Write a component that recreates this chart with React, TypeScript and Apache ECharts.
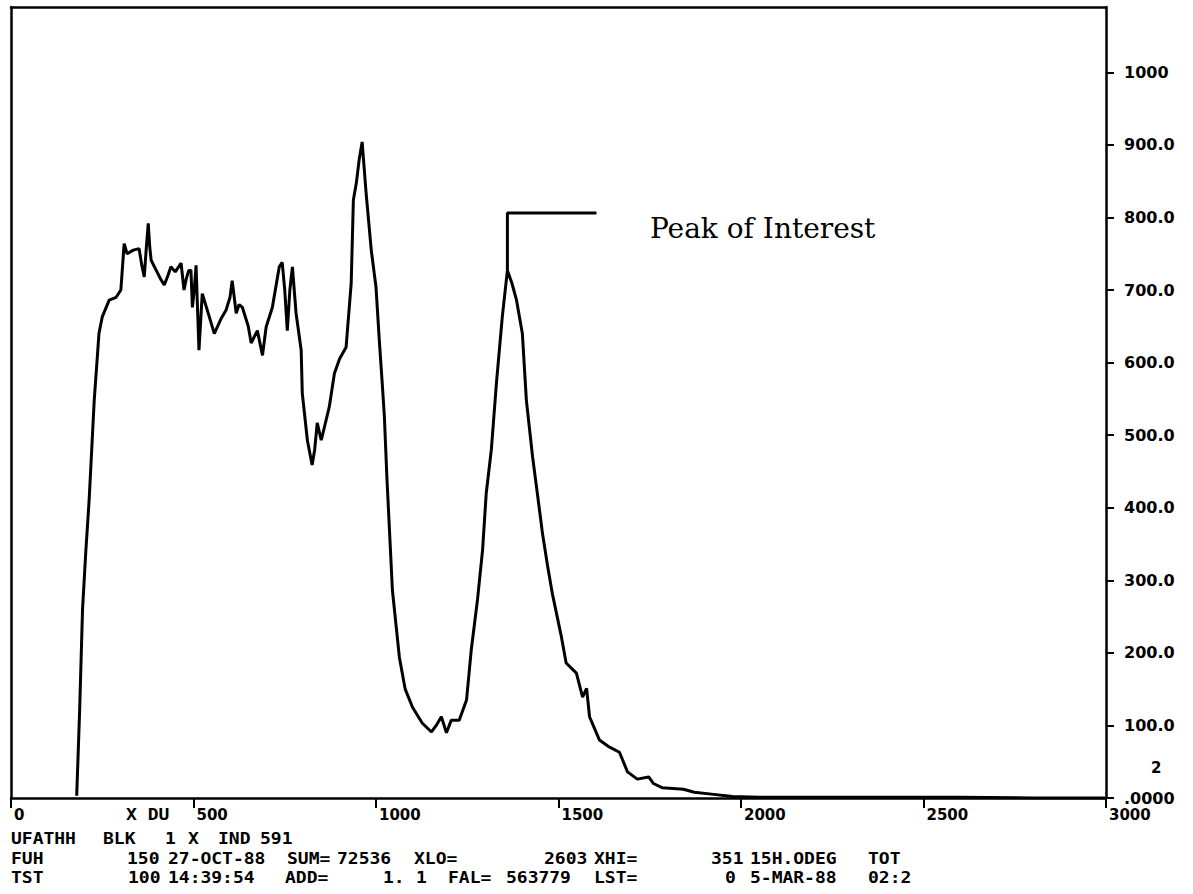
import React, { useEffect, useRef } from "react";
import * as echarts from "echarts";

// Spectrum trace: channel (x) and counts (y)
const channels = [180, 188, 196, 205, 214, 228, 241, 250, 269, 288, 301, 310, 318, 335, 351, 358, 365, 371, 376, 380, 384, 400, 410, 420, 430, 438, 450, 466, 474, 480, 487, 493, 497, 502, 507, 515, 524, 538, 557, 575, 589, 600, 606, 617, 625, 634, 650, 658, 675, 689, 699, 716, 735, 743, 750, 757, 764, 771, 781, 795, 798, 812, 825, 832, 839, 850, 872, 886, 900, 918, 932, 938, 946, 954, 962, 973, 987, 1000, 1009, 1017, 1023, 1030, 1045, 1064, 1080, 1100, 1127, 1152, 1165, 1179, 1193, 1206, 1228, 1248, 1261, 1278, 1292, 1302, 1316, 1330, 1346, 1360, 1372, 1385, 1401, 1412, 1429, 1442, 1456, 1470, 1483, 1508, 1521, 1549, 1566, 1577, 1585, 1612, 1640, 1667, 1689, 1716, 1747, 1760, 1785, 1842, 1872, 1925, 1977, 2050, 2200, 2400, 2600, 2800, 2998];
const counts = [3, 120, 260, 340, 410, 548, 640, 663, 686, 690, 700, 764, 750, 755, 757, 735, 718, 760, 792, 760, 741, 725, 715, 707, 720, 732, 725, 737, 700, 715, 727, 727, 676, 700, 734, 617, 695, 672, 640, 660, 672, 690, 713, 668, 680, 676, 650, 627, 644, 610, 649, 676, 732, 738, 700, 644, 700, 732, 668, 617, 558, 493, 459, 480, 517, 493, 539, 585, 605, 621, 709, 824, 847, 880, 904, 833, 755, 704, 631, 572, 525, 440, 286, 194, 150, 125, 103, 91, 100, 112, 90, 107, 107, 135, 204, 273, 342, 420, 480, 572, 663, 727, 710, 686, 640, 548, 470, 420, 365, 320, 282, 222, 186, 172, 139, 151, 112, 80, 70, 63, 36, 26, 29, 20, 14, 12, 8, 5, 2, 1, 1, 1, 1, 0, 0];

// Peak-of-interest marker (channel, counts)
const markerX = [1360, 1360, 1604];
const markerY = [727, 806, 806];
const markerLabel = "Peak of Interest";

// Axis ticks and labels
const xTicks = [0, 500, 1000, 1500, 2000, 2500, 3000];
const xTickLabels = ["0", "500", "1000", "1500", "2000", "2500", "3000"];
const yTicks = [0, 100, 200, 300, 400, 500, 600, 700, 800, 900, 1000];
const yTickLabels = [".0000", "100.0", "200.0", "300.0", "400.0", "500.0", "600.0", "700.0", "800.0", "900.0", "1000"];
const xAxisName = "X DU";
const yExtraLabel = "2";

// Footer header lines (text tokens)
const footerLine1 = ["UFATHH", "BLK", "1", "X", "IND", "591"];
const footerLine2 = ["FUH", "150", "27-OCT-88", "SUM=", "72536", "XLO=", "2603", "XHI=", "351", "15H.ODEG", "TOT"];
const footerLine3 = ["TST", "100", "14:39:54", "ADD=", "1.", "1", "FAL=", "563779", "LST=", "0", "5-MAR-88", "02:2"];

// layout (pixel positions of footer tokens)
const footerLayout = [
  { y: 839, xs: [11, 103, 165, 188, 218, 260] },
  { y: 859, xs: [11, 127, 168, 287, 337, 414, 544, 594, 711, 750, 868] },
  { y: 878, xs: [11, 128, 168, 285, 383, 416, 448, 506, 594, 725, 750, 868] },
];

export default function App() {
  const ref = useRef<HTMLDivElement>(null);

  useEffect(() => {
    if (!ref.current) return;
    const chart = echarts.init(ref.current, undefined, { renderer: "svg" });
    const black = "#000";
    const lineData = channels.map((c, i) => [c, counts[i]]);
    const markerData = markerX.map((c, i) => [c, markerY[i]]);
    const axisFont = { color: black, fontFamily: "DejaVu Sans", fontWeight: "bold" as const, fontSize: 15 };
    const monoFont = 'bold 15px "DejaVu Sans Mono"';

    const footers = [footerLine1, footerLine2, footerLine3];
    const footerGraphics: any[] = [];
    footers.forEach((tokens, li) => {
      tokens.forEach((t, ti) => {
        footerGraphics.push({
          type: "text",
          x: footerLayout[li].xs[ti],
          y: footerLayout[li].y,
          scaleX: 1.2,
          style: { text: t, fill: black, font: monoFont, align: "left", verticalAlign: "middle" },
        });
      });
    });

    const option: any = {
      animation: false,
      backgroundColor: "#fff",
      grid: { left: 11, right: 87, top: 7, bottom: 96, outerBoundsMode: "none" },
      xAxis: [
        {
          type: "value",
          min: 0,
          max: 3000,
          interval: 500,
          position: "bottom",
          axisLine: { show: true, onZero: false, lineStyle: { color: black, width: 2.5 } },
          axisTick: { show: true, length: 10, lineStyle: { color: black, width: 2 } },
          axisLabel: {
            ...axisFont,
            align: "left",
            margin: 10,
            lineHeight: 14,
            padding: [0, 0, 0, 3],
            showMaxLabel: true,
            formatter: (v: number) => {
              const i = xTicks.indexOf(v);
              return i >= 0 ? xTickLabels[i] : "";
            },
          },
          splitLine: { show: false },
        },
        {
          type: "value",
          min: 0,
          max: 3000,
          position: "top",
          axisLine: { show: true, onZero: false, lineStyle: { color: black, width: 2.5 } },
          axisTick: { show: false },
          axisLabel: { show: false },
          splitLine: { show: false },
        },
      ],
      yAxis: [
        {
          type: "value",
          min: 0,
          max: 1090,
          position: "right",
          axisLine: { show: true, onZero: false, lineStyle: { color: black, width: 2.5 } },
          axisTick: { show: true, length: 8, customValues: yTicks, lineStyle: { color: black, width: 2 } },
          axisLabel: {
            ...axisFont,
            fontSize: 16,
            lineHeight: 14,
            margin: 12,
            align: "left",
            padding: [0, 0, 0, 6],
            customValues: yTicks,
            formatter: (v: number) => {
              const i = yTicks.indexOf(v);
              return i >= 0 ? yTickLabels[i] : "";
            },
          },
          splitLine: { show: false },
        },
        {
          type: "value",
          min: 0,
          max: 1090,
          position: "left",
          axisLine: { show: true, onZero: false, lineStyle: { color: black, width: 2.5 } },
          axisTick: { show: false },
          axisLabel: { show: false },
          splitLine: { show: false },
        },
      ],
      series: [
        {
          type: "line",
          xAxisIndex: 0,
          yAxisIndex: 0,
          data: lineData,
          symbol: "none",
          showSymbol: false,
          lineStyle: { color: black, width: 3 },
          z: 3,
        },
        {
          type: "line",
          xAxisIndex: 0,
          yAxisIndex: 0,
          data: markerData,
          symbol: "none",
          showSymbol: false,
          lineStyle: { color: black, width: 3 },
          z: 3,
        },
      ],
      graphic: [
        {
          type: "text",
          x: 650,
          y: 228,
          style: { text: markerLabel, fill: black, font: '28px "DejaVu Serif"', align: "left", verticalAlign: "middle" },
        },
        {
          type: "text",
          x: 126,
          y: 815,
          scaleX: 1.2,
          style: { text: xAxisName, fill: black, font: monoFont, align: "left", verticalAlign: "middle" },
        },
        {
          type: "text",
          x: 1151,
          y: 768,
          style: { text: yExtraLabel, fill: black, font: 'bold 15px "DejaVu Sans"', align: "left", verticalAlign: "middle" },
        },
        ...footerGraphics,
      ],
    };
    chart.setOption(option);
    return () => chart.dispose();
  }, []);

  return (
    <div
      ref={ref}
      style={{ position: "absolute", left: 0, top: 0, width: 1193, height: 894, background: "#fff" }}
    />
  );
}
